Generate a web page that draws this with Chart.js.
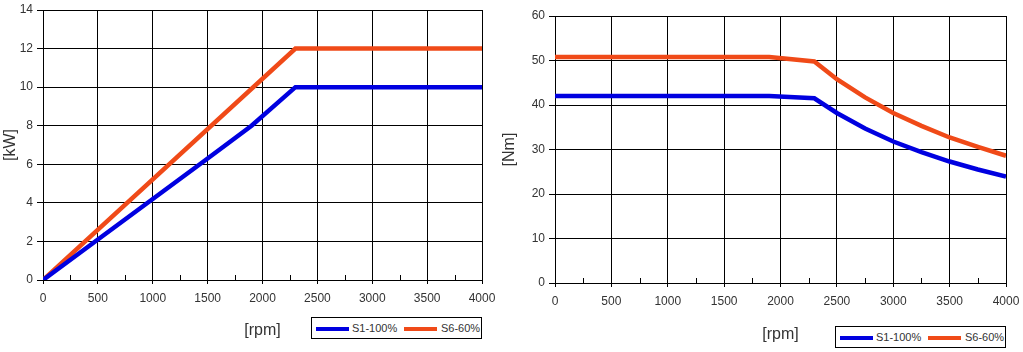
<!DOCTYPE html>
<html>
<head>
<meta charset="utf-8">
<script src="https://cdn.jsdelivr.net/npm/chart.js@4.4.1/dist/chart.umd.min.js"></script>
<style>
  body { margin: 0; background: #fff; width: 1023px; height: 352px; overflow: hidden; font-family: "Liberation Sans", Arial, sans-serif; }
  .box { position: absolute; top: 0; height: 352px; }
  .legend { position: absolute; border: 1px solid #000; background: #fff; height: 22px; width: 171px; box-sizing: border-box; font-size: 11px; color: #333; }
  .legend span.ln { position: absolute; top: 9px; height: 4px; width: 33px; }
  .legend span.tx { position: absolute; top: 4px; }
</style>
</head>
<body>
<div class="box" style="left:0;width:500px"><canvas id="myChart1" width="500" height="352"></canvas></div>
<div class="box" style="left:500px;width:523px"><canvas id="myChart2" width="523" height="352"></canvas></div>

<div class="legend" style="left:311px;top:317px">
  <span class="ln" style="left:4px;background:#0000e0"></span><span class="tx" style="left:40px">S1-100%</span>
  <span class="ln" style="left:92px;background:#f04a18"></span><span class="tx" style="left:129px">S6-60%</span>
</div>
<div class="legend" style="left:835px;top:326px">
  <span class="ln" style="left:4px;background:#0000e0"></span><span class="tx" style="left:40px">S1-100%</span>
  <span class="ln" style="left:92px;background:#f04a18"></span><span class="tx" style="left:129px">S6-60%</span>
</div>

<script>
// speed axis
const xTicks = [0, 500, 1000, 1500, 2000, 2500, 3000, 3500, 4000];

// power curves [kW]
const powerS1Rpm = [0, 500, 1000, 1500, 1900, 2300, 4000];
const powerS1 = [0, 2.1, 4.2, 6.3, 8.0, 10, 10];
const powerS6Rpm = [0, 2300, 4000];
const powerS6 = [0, 12, 12];

// torque curves [Nm]
const torqueRpm = [0, 1900, 2300, 2500, 2750, 3000, 3250, 3500, 3750, 4000];
const torqueS1 = [42, 42, 41.5, 38.2, 34.7, 31.8, 29.4, 27.3, 25.5, 23.9];
const torqueS6 = [50.8, 50.8, 49.8, 45.8, 41.7, 38.2, 35.3, 32.7, 30.6, 28.6];

const blue = '#0000e0';
const orange = '#f04a18';

const toPoints = (xs, ys) => xs.map((x, i) => ({ x: x, y: ys[i] }));

// small ticks between the 500 rpm grid lines
const minorTicks = {
  id: 'minorTicks',
  afterDraw(chart) {
    const ctx = chart.ctx;
    const x = chart.scales.x;
    const bottom = chart.chartArea.bottom;
    ctx.save();
    ctx.strokeStyle = '#000';
    ctx.lineWidth = 1;
    for (let v = 250; v < 4000; v += 500) {
      const px = Math.round(x.getPixelForValue(v)) + 0.5;
      ctx.beginPath();
      ctx.moveTo(px, bottom);
      ctx.lineTo(px, bottom - 5);
      ctx.stroke();
    }
    ctx.restore();
  }
};

const renderChart = (i, cfg) => {
  const ctx = document.getElementById(`myChart${i}`).getContext('2d');
  return new Chart(ctx, {
    type: 'line',
    data: {
      datasets: [
        { label: 'S1-100%', data: cfg.s1, borderColor: blue, borderWidth: 4.5 },
        { label: 'S6-60%', data: cfg.s6, borderColor: orange, borderWidth: 4.5 },
      ],
    },
    options: {
      responsive: false,
      animation: false,
      elements: { point: { radius: 0 }, line: { tension: 0, borderCapStyle: 'butt' } },
      layout: { padding: { top: cfg.top, right: cfg.right, left: 0, bottom: 0 } },
      plugins: { legend: { display: false }, tooltip: { enabled: false } },
      scales: {
        x: {
          type: 'linear',
          min: 0,
          max: 4000,
          afterBuildTicks: (s) => { s.ticks = xTicks.map((v) => ({ value: v })); },
          afterFit: (s) => { s.height = cfg.xHeight; s.paddingLeft = 0; s.paddingRight = 0; },
          grid: { color: '#000', tickLength: 4 },
          border: { color: '#000' },
          ticks: { color: '#333', font: { size: 12, family: 'Liberation Sans' }, padding: 7, maxRotation: 0, callback: (v) => String(v) },
          title: { display: true, text: '[rpm]', color: '#333', font: { size: 16, family: 'Liberation Sans' }, padding: { bottom: cfg.titleBottom, top: 0 } },
        },
        y: {
          min: 0,
          max: cfg.yMax,
          ticks: { stepSize: cfg.yStep, color: '#333', font: { size: 12, family: 'Liberation Sans' }, padding: 4 },
          afterFit: (s) => { s.width = cfg.yWidth; s.paddingTop = 0; s.paddingBottom = 0; },
          grid: { color: '#000', tickLength: 6 },
          border: { color: '#000' },
          title: { display: true, text: cfg.yTitle, color: '#333', font: { size: 16, family: 'Liberation Sans' }, padding: { top: cfg.yTitlePad, bottom: 0 } },
        },
      },
    },
    plugins: [minorTicks],
  });
};

renderChart(1, {
  s1: toPoints(powerS1Rpm, powerS1),
  s6: toPoints(powerS6Rpm, powerS6),
  yMax: 14, yStep: 2, yTitle: '[kW]',
  top: 10, right: 18, yWidth: 43, xHeight: 72, titleBottom: 12, yTitlePad: 1,
});

renderChart(2, {
  s1: toPoints(torqueRpm, torqueS1),
  s6: toPoints(torqueRpm, torqueS6),
  yMax: 60, yStep: 10, yTitle: '[Nm]',
  top: 16, right: 17, yWidth: 55, xHeight: 69, titleBottom: 8, yTitlePad: 0,
});
</script>
</body>
</html>
